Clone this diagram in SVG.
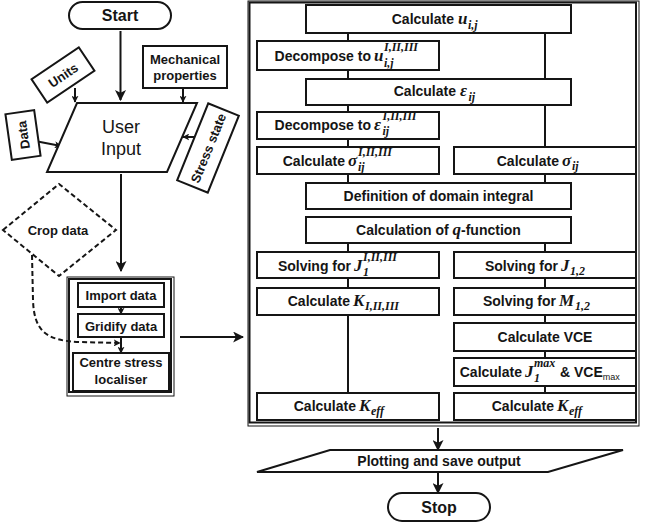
<svg xmlns="http://www.w3.org/2000/svg" width="645" height="523" viewBox="0 0 645 523">
<defs>
<style>
.bx{fill:#fff;stroke:#151515;stroke-width:2}
.ln{fill:none;stroke:#151515;stroke-width:2}
.t{font-family:"Liberation Sans",Arial,sans-serif;font-weight:bold;font-size:14px;fill:#151515}
.t13{font-family:"Liberation Sans",Arial,sans-serif;font-weight:bold;font-size:13px;fill:#151515}
.big{font-family:"Liberation Sans",Arial,sans-serif;font-weight:bold;font-size:16px;fill:#151515}
.ui{font-family:"Liberation Sans",Arial,sans-serif;font-size:18px;fill:#151515}
.m{font-family:"Liberation Serif","DejaVu Serif",serif;font-style:italic;font-weight:bold;font-size:17px;fill:#151515}
.s{font-family:"Liberation Serif","DejaVu Serif",serif;font-style:italic;font-weight:bold;font-size:12px;fill:#151515}
.e{text-anchor:end}
.c{text-anchor:middle}
</style>
<marker id="ah" viewBox="0 0 10 10" refX="9" refY="5" markerWidth="11" markerHeight="11" markerUnits="userSpaceOnUse" orient="auto"><path d="M0,0 L10,5 L0,10 L2.5,5 z" fill="#151515"/></marker>
<marker id="ahs" viewBox="0 0 10 10" refX="9" refY="5" markerWidth="7" markerHeight="7" markerUnits="userSpaceOnUse" orient="auto"><path d="M0,0 L10,5 L0,10 L2.5,5 z" fill="#151515"/></marker>
</defs>
<rect width="645" height="523" fill="#fff"/>

<!-- containers -->
<g id="container-right">
<rect x="248" y="1" width="391" height="425" fill="none" stroke="#151515" stroke-width="1"/>
<rect x="249.5" y="2.5" width="386.5" height="420" fill="none" stroke="#151515" stroke-width="2"/>
</g>
<g id="container-left">
<rect x="67" y="277" width="107" height="119" fill="none" stroke="#151515" stroke-width="1"/>
<rect x="69" y="279" width="102" height="113" fill="none" stroke="#151515" stroke-width="2"/>
</g>

<!-- connectors -->
<g id="connectors">
<line class="ln" x1="120.5" y1="31" x2="120.5" y2="100" stroke-width="3" marker-end="url(#ah)"/>
<line class="ln" x1="75" y1="88" x2="75" y2="102" stroke-width="1.5" marker-end="url(#ahs)"/>
<line class="ln" x1="183" y1="88" x2="183" y2="102" stroke-width="1.5" marker-end="url(#ahs)"/>
<line class="ln" x1="35" y1="141" x2="61" y2="146" stroke-width="1.5" marker-end="url(#ahs)"/>
<line class="ln" x1="196" y1="137" x2="183" y2="137" stroke-width="1.5" marker-end="url(#ahs)"/>
<line class="ln" x1="121" y1="174" x2="121" y2="271" stroke-width="3" marker-end="url(#ah)"/>
<path d="M32,255 L33,300 C34,330 45,341 80,342 L120,343" fill="none" stroke="#151515" stroke-width="2" stroke-dasharray="5,3" marker-end="url(#ahs)"/>
<line class="ln" x1="121" y1="307" x2="121" y2="314" stroke-width="1.5" marker-end="url(#ahs)"/>
<line class="ln" x1="121" y1="337" x2="121" y2="353" stroke-width="1.5" marker-end="url(#ahs)"/>
<line class="ln" x1="180" y1="337" x2="243" y2="337" stroke-width="3" marker-end="url(#ah)"/>
<line class="ln" x1="348" y1="33" x2="348" y2="41"/>
<line class="ln" x1="348" y1="70" x2="348" y2="79"/>
<line class="ln" x1="348" y1="105" x2="348" y2="112"/>
<line class="ln" x1="348" y1="139" x2="348" y2="147"/>
<line class="ln" x1="348" y1="174" x2="348" y2="183"/>
<line class="ln" x1="348" y1="243" x2="348" y2="252"/>
<line class="ln" x1="348" y1="278" x2="348" y2="288"/>
<line class="ln" x1="348" y1="315" x2="348" y2="393"/>
<line class="ln" x1="545" y1="33" x2="545" y2="79"/>
<line class="ln" x1="545" y1="105" x2="545" y2="147"/>
<line class="ln" x1="545" y1="174" x2="545" y2="183"/>
<line class="ln" x1="545" y1="243" x2="545" y2="252"/>
<line class="ln" x1="545" y1="278" x2="545" y2="288"/>
<line class="ln" x1="545" y1="315" x2="545" y2="323"/>
<line class="ln" x1="545" y1="351" x2="545" y2="358"/>
<line class="ln" x1="545" y1="386" x2="545" y2="393"/>
<line class="ln" x1="438" y1="428" x2="438" y2="450" marker-end="url(#ah)"/>
<line class="ln" x1="438" y1="472" x2="438" y2="493" marker-end="url(#ah)"/>
</g>

<!-- left side nodes -->
<g id="start">
<rect class="bx" x="69" y="2" width="102" height="27" rx="13.5"/>
<text class="big c" x="120" y="21">Start</text>
</g>
<g id="units" transform="translate(63,75) rotate(-34)">
<rect class="bx" x="-28.5" y="-14" width="57" height="28"/>
<text class="t13 c" x="0" y="5">Units</text>
</g>
<g id="mechanical-properties">
<rect class="bx" x="143" y="46" width="84" height="42"/>
<text class="t13 c" x="185" y="64">Mechanical</text>
<text class="t13 c" x="185" y="80">properties</text>
</g>
<g id="data" transform="translate(23,135) rotate(-8)">
<rect class="bx" x="-14.5" y="-23" width="29" height="46"/>
<text class="t13 c" transform="rotate(-90)" x="0" y="5">Data</text>
</g>
<g id="stress-state" transform="translate(208,148) rotate(-68)">
<rect class="bx" x="-41.5" y="-16.5" width="83" height="33"/>
<text class="t13 c" x="0" y="5">Stress state</text>
</g>
<g id="user-input">
<polygon class="bx" points="77,103 197,103 167,172 47,172"/>
<text class="ui c" x="121" y="133">User</text>
<text class="ui c" x="121" y="155">Input</text>
</g>
<g id="crop-data">
<polygon points="3,230 59,184 116,230 59,276" fill="#fff" stroke="#151515" stroke-width="2" stroke-dasharray="5,3"/>
<text class="t13 c" x="58" y="235">Crop data</text>
</g>
<g id="import-data">
<rect class="bx" x="78" y="283" width="86" height="24"/>
<text class="t13 c" x="121" y="299.5">Import data</text>
</g>
<g id="gridify-data">
<rect class="bx" x="78" y="314" width="86" height="23"/>
<text class="t13 c" x="121" y="330.5">Gridify data</text>
</g>
<g id="centre-stress-localiser">
<rect class="bx" x="73" y="353" width="96" height="38"/>
<text class="t13 c" x="121" y="367">Centre stress</text>
<text class="t13 c" x="121" y="384">localiser</text>
</g>

<!-- right side nodes -->
<g id="calc-u">
<rect class="bx" x="306" y="5" width="265" height="28"/>
<text class="t e" x="454" y="24">Calculate</text>
<text class="m" x="458" y="24">u</text>
<text class="s" x="468" y="29">i,j</text>
</g>
<g id="decompose-u">
<rect class="bx" x="257" y="41" width="182" height="29"/>
<text class="t e" x="371" y="61">Decompose to</text>
<text class="m" x="374" y="61">u</text>
<text class="s" x="384" y="51">I,II,III</text>
<text class="s" x="384" y="67">i,j</text>
</g>
<g id="calc-eps">
<rect class="bx" x="306" y="79" width="265" height="26"/>
<text class="t e" x="456" y="96">Calculate</text>
<text class="m" x="460" y="96">ε</text>
<text class="s" x="468.5" y="101">ij</text>
</g>
<g id="decompose-eps">
<rect class="bx" x="257" y="112" width="182" height="27"/>
<text class="t e" x="371" y="130">Decompose to</text>
<text class="m" x="374" y="130">ε</text>
<text class="s" x="382.5" y="120">I,II,III</text>
<text class="s" x="382.5" y="135">ij</text>
</g>
<g id="calc-sigma-modes">
<rect class="bx" x="257" y="147" width="182" height="27"/>
<text class="t e" x="345" y="166">Calculate</text>
<text class="m" x="348" y="166">σ</text>
<text class="s" x="358" y="156">I,II,III</text>
<text class="s" x="358" y="171">ij</text>
</g>
<g id="calc-sigma">
<rect class="bx" x="454" y="147" width="182" height="27"/>
<text class="t e" x="559" y="166">Calculate</text>
<text class="m" x="562" y="166">σ</text>
<text class="s" x="572" y="170">ij</text>
</g>
<g id="domain-integral">
<rect class="bx" x="306" y="183" width="265" height="26"/>
<text class="t c" x="438.5" y="201">Definition of domain integral</text>
</g>
<g id="q-function">
<rect class="bx" x="306" y="217" width="265" height="26"/>
<text class="t c" x="438.5" y="235">Calculation of <tspan class="m">q</tspan>-function</text>
</g>
<g id="solve-j-modes">
<rect class="bx" x="257" y="252" width="182" height="26"/>
<text class="t e" x="351" y="271">Solving for</text>
<text class="m" x="354" y="271">J</text>
<text class="s" x="363" y="261">I,II,III</text>
<text class="s" x="363" y="276">1</text>
</g>
<g id="solve-j12">
<rect class="bx" x="454" y="252" width="182" height="26"/>
<text class="t e" x="558" y="271">Solving for</text>
<text class="m" x="561" y="271">J</text>
<text class="s" x="570" y="275">1,2</text>
</g>
<g id="calc-k-modes">
<rect class="bx" x="257" y="288" width="182" height="27"/>
<text class="t e" x="350" y="306">Calculate</text>
<text class="m" x="353" y="306">K</text>
<text class="s" x="365" y="310">I,II,III</text>
</g>
<g id="solve-m12">
<rect class="bx" x="454" y="288" width="182" height="27"/>
<text class="t e" x="556" y="306">Solving for</text>
<text class="m" x="559" y="306">M</text>
<text class="s" x="575" y="310">1,2</text>
</g>
<g id="calc-vce">
<rect class="bx" x="454" y="323" width="182" height="28"/>
<text class="t c" x="545" y="342">Calculate VCE</text>
</g>
<g id="calc-jmax">
<rect class="bx" x="454" y="358" width="182" height="28"/>
<text class="t e" x="522" y="377">Calculate</text>
<text class="m" x="525" y="377">J</text>
<text class="s" x="534" y="367">max</text>
<text class="s" x="534" y="382">1</text>
<text class="t" x="560" y="377">&amp; VCE<tspan font-size="9" font-weight="normal" dy="3">max</tspan></text>
</g>
<g id="calc-keff-left">
<rect class="bx" x="257" y="393" width="182" height="27"/>
<text class="t e" x="356" y="411">Calculate</text>
<text class="m" x="359" y="411">K</text>
<text class="s" x="371" y="415">eff</text>
</g>
<g id="calc-keff-right">
<rect class="bx" x="454" y="393" width="182" height="27"/>
<text class="t e" x="554" y="411">Calculate</text>
<text class="m" x="557" y="411">K</text>
<text class="s" x="569" y="415">eff</text>
</g>

<!-- bottom -->
<g id="plotting">
<polygon class="bx" points="330,450 623,450 548,472 257,472"/>
<text class="t c" x="439" y="465.5">Plotting and save output</text>
</g>
<g id="stop">
<rect class="bx" x="388" y="493" width="102" height="28" rx="14"/>
<text class="big c" x="439" y="513">Stop</text>
</g>
</svg>
